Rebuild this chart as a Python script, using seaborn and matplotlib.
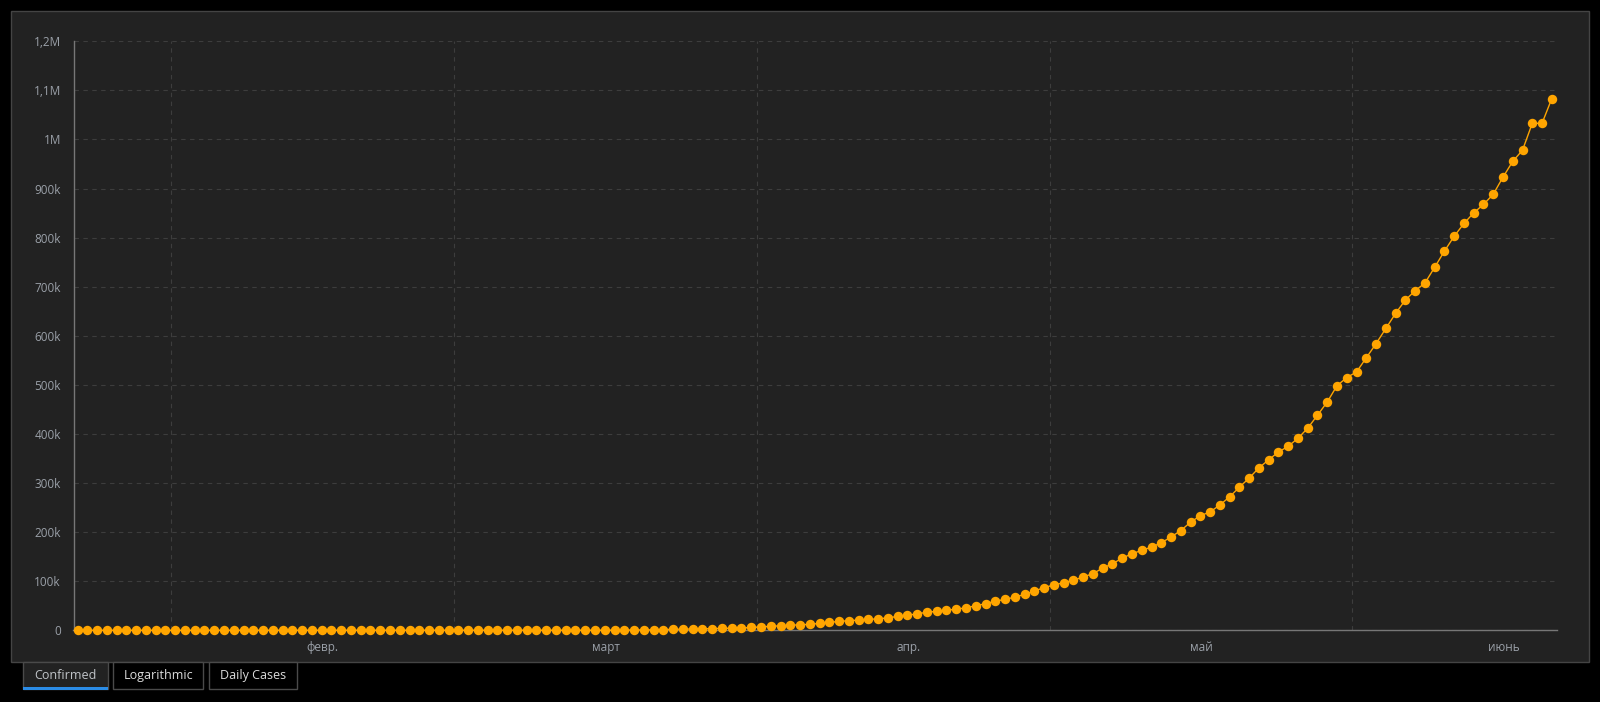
import matplotlib
matplotlib.use("Agg")
import matplotlib.pyplot as plt
from matplotlib.patches import Rectangle
import pandas as pd
import seaborn as sns

# cumulative confirmed cases, one value per day starting on start_date
start_date = "2020-01-22"
confirmed = (
    [0] * 35  # Jan 22 - Feb 25
    + [1, 1, 1, 2]  # Feb 26 - Feb 29
    + [2, 2, 2, 4, 4, 13, 13, 20, 25, 31, 38, 52, 151, 151, 162, 200,
       321, 372, 621, 793, 1021, 1546, 1924, 2247, 2554, 2985, 3417,
       3904, 4256, 4579, 5717]  # March
    + [6836, 8044, 9056, 10360, 11130, 12161, 14034, 16170, 18092, 19638,
       20727, 22192, 23430, 25262, 28320, 30425, 33682, 36658, 38654,
       40743, 43079, 45757, 50036, 54043, 59324, 63100, 67446, 73235,
       79685, 87187]  # April
    + [92202, 97100, 101826, 108620, 115455, 126611, 135773, 146894,
       156061, 162699, 169594, 178214, 190137, 203165, 220291, 233511,
       241080, 255368, 271885, 291579, 310087, 330890, 347398, 363211,
       374898, 391222, 411821, 438238, 465166, 498440, 514849]  # May
    + [526447, 555383, 584016, 614941, 645771, 672846, 691758, 707412,
       739503, 772416, 802828, 828810, 850514, 867624, 888271, 923189,
       955377, 978142, 1032913, 1032913, 1083341]  # June 1 - 21
)

y_ticks = [0, 100000, 200000, 300000, 400000, 500000, 600000,
           700000, 800000, 900000, 1000000, 1100000, 1200000]
y_labels = ["0", "100k", "200k", "300k", "400k", "500k", "600k",
            "700k", "800k", "900k", "1M", "1,1M", "1,2M"]
month_starts = ["2020-02-01", "2020-03-01", "2020-04-01", "2020-05-01", "2020-06-01"]
month_labels = ["февр.", "март", "апр.", "май", "июнь"]
tabs = ["Confirmed", "Logarithmic", "Daily Cases"]

df = pd.DataFrame({
    "date": pd.date_range(start_date, periods=len(confirmed)) + pd.Timedelta(hours=10),
    "confirmed": confirmed,
})

sns.set_theme(style="dark")
plt.rcParams["font.family"] = ["Open Sans", "DejaVu Sans"]

W, H = 1600, 702
fig = plt.figure(figsize=(16, 7.02), dpi=100, facecolor="black")


def px_rect(x0, y0, x1, y1, **kw):
    # rectangle given in figure pixels (y from top)
    return Rectangle((x0 / W, 1 - y1 / H), (x1 - x0) / W, (y1 - y0) / H,
                     transform=fig.transFigure, **kw)


# dark panel behind the chart
fig.patches.append(px_rect(10.5, 10.5, 1589, 662, facecolor="#222222",
                           edgecolor="#444444", lw=1, zorder=-1))

ax = fig.add_axes([73.5 / W, 1 - 630.3 / H, (1557.5 - 73.5) / W, (630.3 - 41.3) / H])
ax.set_facecolor("none")

sns.lineplot(data=df, x="date", y="confirmed", ax=ax, color="#ffa500", lw=1,
             marker="o", markersize=6.8, markeredgewidth=0, clip_on=False, zorder=3)

ax.set_xlim(pd.Timestamp("2020-01-22"), pd.Timestamp("2020-06-22"))
ax.set_ylim(0, 1200000)
ax.set_xlabel("")
ax.set_ylabel("")

ax.set_yticks(y_ticks, y_labels)
ax.set_xticks(pd.to_datetime(month_starts), [""] * len(month_starts))
ax.set_xticks(pd.to_datetime(month_starts) + pd.Timedelta(days=15, hours=12),
              month_labels, minor=True)

label_col = "#9aa0a8"
ax.tick_params(axis="x", which="major", length=5, width=1, color="#777777", direction="out")
ax.tick_params(axis="x", which="minor", length=0, labelsize=8.5, labelcolor=label_col, pad=8)
ax.tick_params(axis="y", length=5, width=1, color="#777777", direction="out",
               labelsize=8.5, labelcolor=label_col, pad=4)

ax.grid(True, which="major", color="#3d3d3d", ls=(0, (4, 4)), lw=0.8)
ax.grid(False, which="minor")

for side in ["top", "right"]:
    ax.spines[side].set_visible(False)
for side in ["left", "bottom"]:
    ax.spines[side].set_color("#777777")
    ax.spines[side].set_linewidth(1)

# tabs under the chart
tab_x = [(23.3, 107.7), (113.3, 203.3), (209.3, 297.3)]
for i, (name, (x0, x1)) in enumerate(zip(tabs, tab_x)):
    active = i == 0
    fig.patches.append(px_rect(x0, 662, x1, 689.3,
                               facecolor="#222222" if active else "black",
                               edgecolor="#4a4a4a", lw=1, zorder=1))
    if active:
        fig.patches.append(px_rect(x0, 687, x1, 689.5, facecolor="#2b8ce6",
                                   edgecolor="none", zorder=2))
    fig.text((x0 + x1) / 2 / W, 1 - 675.5 / H, name, ha="center", va="center",
             fontsize=9, color="#c0c4c8" if active else "#dcdcdc")

fig.savefig("out.png", dpi=100, facecolor="black")
